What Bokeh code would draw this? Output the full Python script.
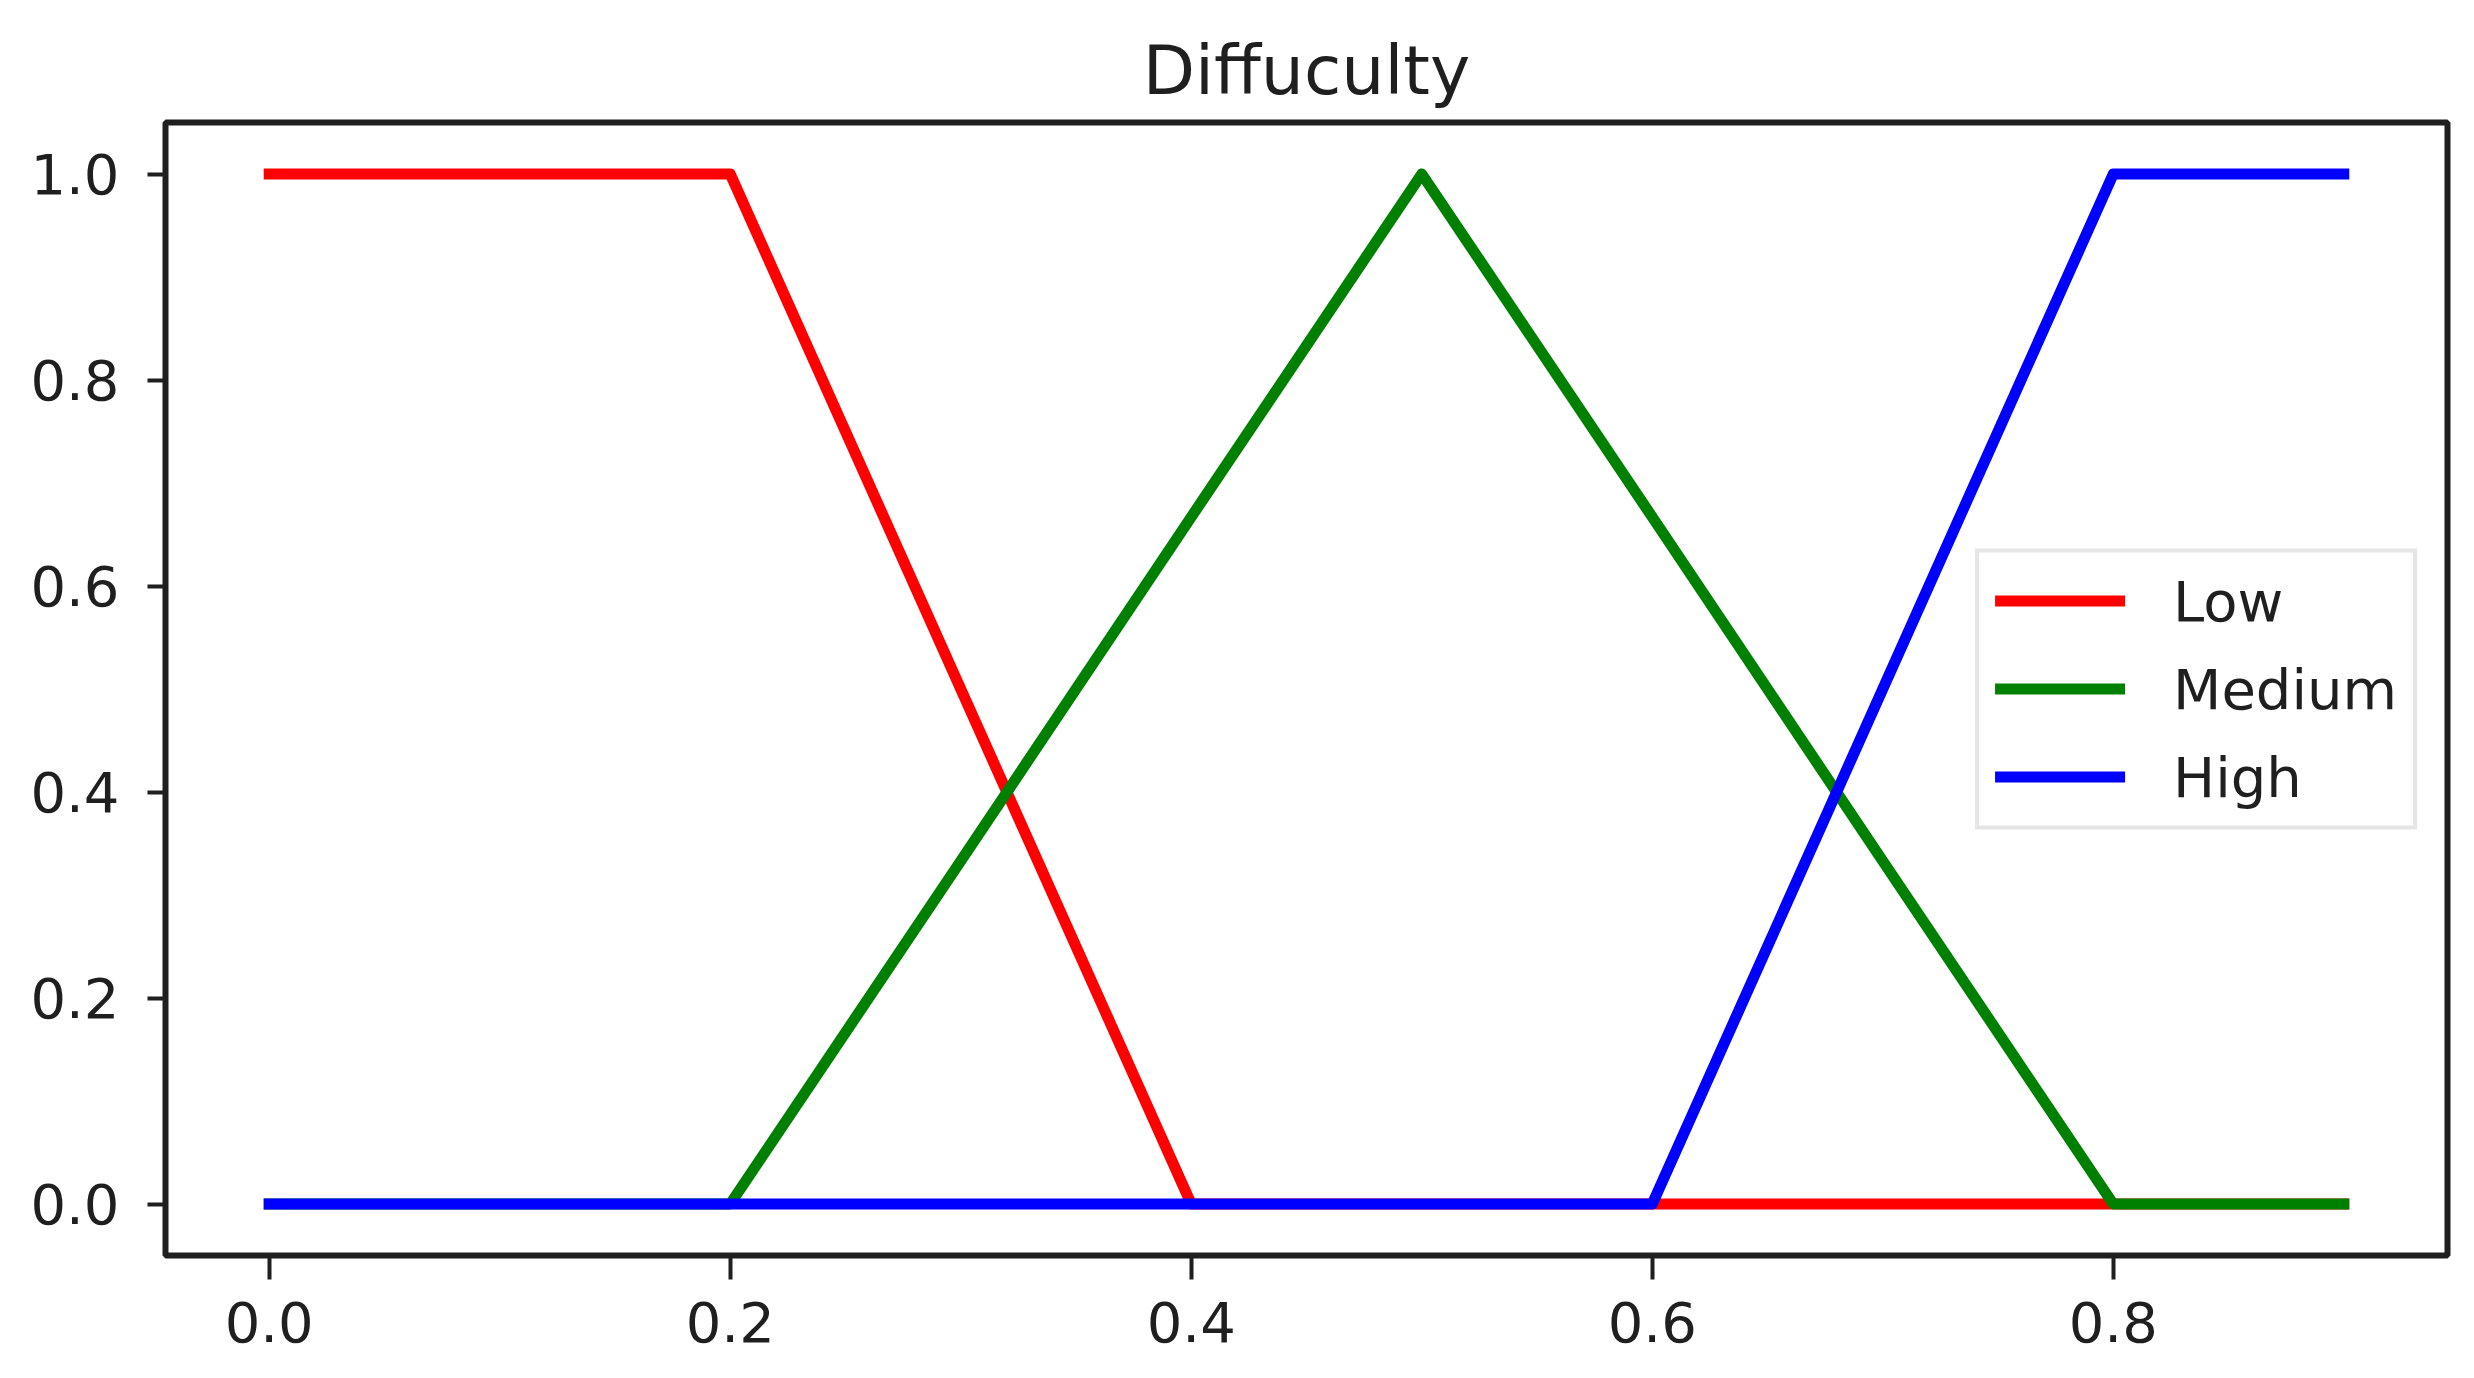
from bokeh.plotting import figure
from bokeh.models import Range1d, FixedTicker, PrintfTickFormatter, Legend, LegendItem
from bokeh.embed import file_html
from bokeh.resources import INLINE

title_text = "Diffuculty"
x_vals = [0.0, 0.1, 0.2, 0.3, 0.4, 0.5, 0.6, 0.7, 0.8, 0.9]
low = [1.0, 1.0, 1.0, 0.5, 0.0, 0.0, 0.0, 0.0, 0.0, 0.0]
medium = [0.0, 0.0, 0.0, 0.333, 0.667, 1.0, 0.667, 0.333, 0.0, 0.0]
high = [0.0, 0.0, 0.0, 0.0, 0.0, 0.0, 0.0, 0.5, 1.0, 1.0]
series_names = ["Low", "Medium", "High"]
series_colors = ["red", "green", "blue"]
x_ticks = [0.0, 0.2, 0.4, 0.6, 0.8]
y_ticks = [0.0, 0.2, 0.4, 0.6, 0.8, 1.0]

FONT = "DejaVu Sans"
INK = "#1f1f1f"

p = figure(width=2466, height=1370, output_backend="svg", toolbar_location=None,
           x_range=Range1d(-0.045, 0.945), y_range=Range1d(-0.05, 1.05),
           min_border_left=165, min_border_right=19, min_border_top=122, min_border_bottom=115)

p.title.text = title_text
p.title.text_font = FONT
p.title.text_font_size = "68px"
p.title.text_font_style = "normal"
p.title.text_color = INK
p.title.align = "center"
p.title.standoff = 26

p.xgrid.visible = False
p.ygrid.visible = False
p.outline_line_color = INK
p.outline_line_width = 6
p.background_fill_color = "white"
p.border_fill_color = "white"

for ax in (p.xaxis, p.yaxis):
    ax.axis_line_color = None
    ax.major_tick_line_color = INK
    ax.major_tick_line_width = 4
    ax.major_tick_in = 0
    ax.minor_tick_line_color = None
    ax.major_label_text_font = FONT
    ax.major_label_text_font_size = "56px"
    ax.major_label_text_color = INK
    ax.formatter = PrintfTickFormatter(format="%.1f")

p.xaxis.ticker = FixedTicker(ticks=x_ticks)
p.yaxis.ticker = FixedTicker(ticks=y_ticks)
p.xaxis.major_tick_out = 24
p.yaxis.major_tick_out = 18
p.xaxis.major_label_standoff = 22
p.yaxis.major_label_standoff = 28

items = []
for name, ys, col in zip(series_names, [low, medium, high], series_colors):
    r = p.line(x_vals, ys, line_color=col, line_width=11, line_cap="square", line_join="round")
    items.append(LegendItem(label=name, renderers=[r]))

legend = Legend(items=items, location="center_right")
legend.margin = 30
legend.padding = 16
legend.spacing = 23
legend.glyph_width = 130
legend.glyph_height = 40
legend.label_height = 40
legend.label_standoff = 48
legend.label_text_font = FONT
legend.label_text_font_size = "56px"
legend.label_text_color = INK
legend.border_line_color = "#cccccc"
legend.border_line_width = 4
legend.background_fill_alpha = 0.8
p.add_layout(legend)

open("out.html", "w").write(file_html(p, INLINE))
